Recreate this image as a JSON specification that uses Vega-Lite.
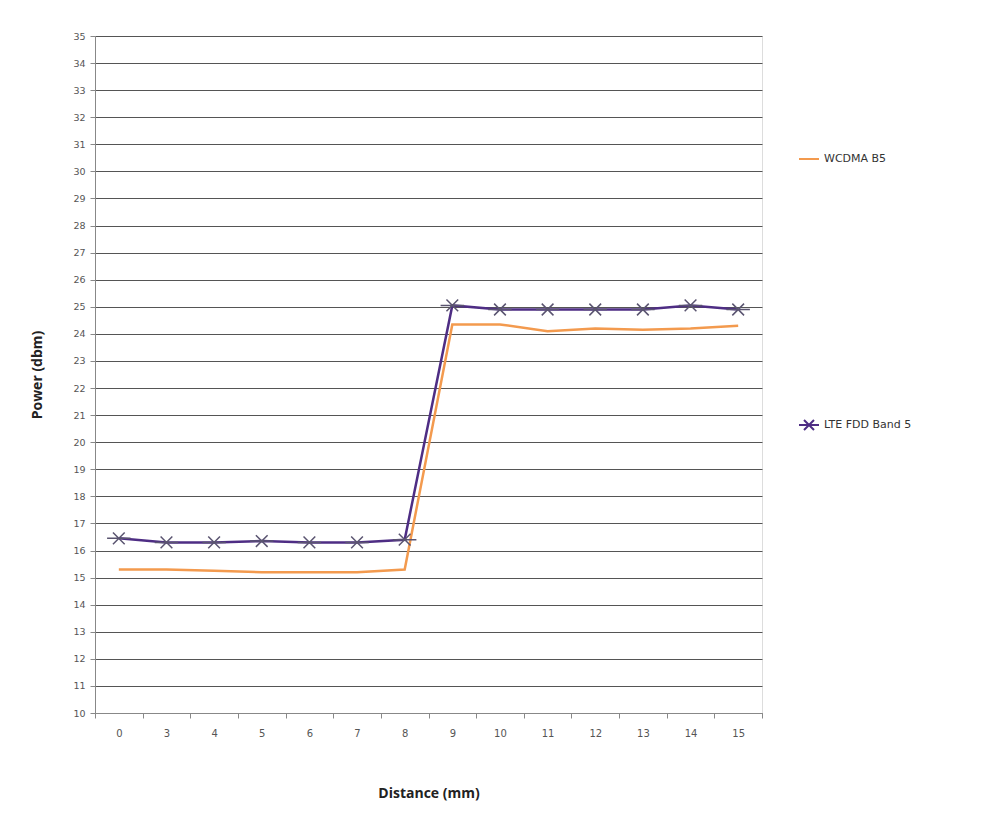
{
  "$schema": "https://vega.github.io/schema/vega-lite/v6.json",
  "autosize": "none",
  "width": 667,
  "height": 677,
  "padding": {"left": 95, "top": 36, "right": 223, "bottom": 120},
  "background": "white",
  "data": {"values": [
    {"d": "0", "s": "WCDMA B5", "p": 15.3},
    {"d": "3", "s": "WCDMA B5", "p": 15.3},
    {"d": "4", "s": "WCDMA B5", "p": 15.25},
    {"d": "5", "s": "WCDMA B5", "p": 15.2},
    {"d": "6", "s": "WCDMA B5", "p": 15.2},
    {"d": "7", "s": "WCDMA B5", "p": 15.2},
    {"d": "8", "s": "WCDMA B5", "p": 15.3},
    {"d": "9", "s": "WCDMA B5", "p": 24.35},
    {"d": "10", "s": "WCDMA B5", "p": 24.35},
    {"d": "11", "s": "WCDMA B5", "p": 24.1},
    {"d": "12", "s": "WCDMA B5", "p": 24.2},
    {"d": "13", "s": "WCDMA B5", "p": 24.15},
    {"d": "14", "s": "WCDMA B5", "p": 24.2},
    {"d": "15", "s": "WCDMA B5", "p": 24.3},
    {"d": "0", "s": "LTE FDD Band 5", "p": 16.45},
    {"d": "3", "s": "LTE FDD Band 5", "p": 16.3},
    {"d": "4", "s": "LTE FDD Band 5", "p": 16.3},
    {"d": "5", "s": "LTE FDD Band 5", "p": 16.35},
    {"d": "6", "s": "LTE FDD Band 5", "p": 16.3},
    {"d": "7", "s": "LTE FDD Band 5", "p": 16.3},
    {"d": "8", "s": "LTE FDD Band 5", "p": 16.4},
    {"d": "9", "s": "LTE FDD Band 5", "p": 25.05},
    {"d": "10", "s": "LTE FDD Band 5", "p": 24.9},
    {"d": "11", "s": "LTE FDD Band 5", "p": 24.9},
    {"d": "12", "s": "LTE FDD Band 5", "p": 24.9},
    {"d": "13", "s": "LTE FDD Band 5", "p": 24.9},
    {"d": "14", "s": "LTE FDD Band 5", "p": 25.05},
    {"d": "15", "s": "LTE FDD Band 5", "p": 24.9}
  ]},
  "encoding": {
    "x": {
      "field": "d", "type": "ordinal", "sort": null,
      "scale": {"paddingInner": 0, "paddingOuter": 0, "domain": ["0","3","4","5","6","7","8","9","10","11","12","13","14","15"]},
      "axis": {
        "title": "Distance (mm)", "labelAngle": 0, "tickBand": "extent",
        "domainColor": "#888", "tickColor": "#888", "tickSize": 5,
        "labelColor": "#555", "labelFontSize": 10, "labelPadding": 10,
        "labelFont": "DejaVu Sans",
        "titleFont": "Open Sans", "titleFontSize": 14, "titleFontWeight": "bold",
        "titleColor": "#222", "titlePadding": 48, "grid": false
      }
    },
    "y": {
      "field": "p", "type": "quantitative",
      "scale": {"domain": [10, 35], "nice": false, "zero": false},
      "axis": {
        "title": "Power (dbm)", "values": [10,11,12,13,14,15,16,17,18,19,20,21,22,23,24,25,26,27,28,29,30,31,32,33,34,35],
        "grid": true, "gridColor": "#555", "gridWidth": 1,
        "domainColor": "#888", "tickColor": "#888", "tickSize": 5,
        "labelColor": "#555", "labelFontSize": 9.5, "labelPadding": 5,
        "labelFont": "DejaVu Sans",
        "titleFont": "Open Sans", "titleFontSize": 14, "titleFontWeight": "bold",
        "titleColor": "#222", "titlePadding": 28
      }
    },
    "color": {
      "field": "s", "type": "nominal",
      "scale": {"domain": ["WCDMA B5", "LTE FDD Band 5"], "range": ["#F39A4E", "#4E2D84"]},
      "legend": {
        "title": null, "orient": "none", "legendX": 703, "legendY": 112,
        "rowPadding": 250, "labelFontSize": 11, "labelColor": "#333",
        "labelFont": "DejaVu Sans", "symbolSize": 400, "symbolStrokeWidth": 2
      }
    }
  },
  "layer": [
    {
      "mark": {"type": "line", "strokeWidth": 2.5}
    },
    {
      "transform": [{"filter": "datum.s === 'LTE FDD Band 5'"}],
      "mark": {"type": "point", "filled": false, "size": 550, "strokeWidth": 1.5, "opacity": 1},
      "encoding": {
        "shape": {
          "field": "s", "type": "nominal",
          "scale": {"domain": ["WCDMA B5", "LTE FDD Band 5"], "range": ["stroke", "M-1,0L1,0M-0.5,-0.5L0.5,0.5M-0.5,0.5L0.5,-0.5"]},
          "legend": null
        },
        "color": {"value": "#5A5470"}
      }
    }
  ]
}
